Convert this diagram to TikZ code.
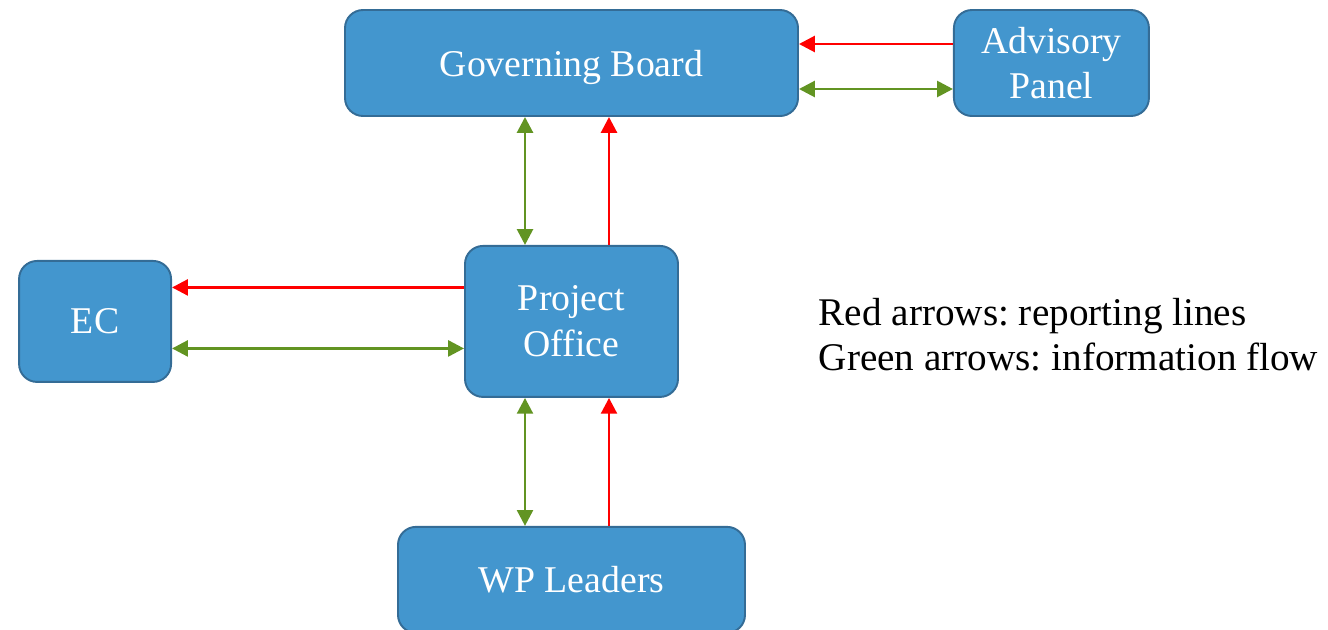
\documentclass[tikz,border=0pt]{standalone}
\usepackage{fontspec}
\setmainfont{Liberation Serif}
\usetikzlibrary{arrows.meta,positioning}
\definecolor{BoxBlue}{RGB}{67,150,206}
\definecolor{BoxEdge}{RGB}{52,108,150}
\definecolor{FlowGreen}{RGB}{98,148,34}
\frenchspacing

\begin{document}
\begin{tikzpicture}[
       >={Triangle[length=9pt,width=9pt]}, thick, text=black,
       every node/.style={font=\fontsize{21.5}{26}\selectfont},
       unit/.style 2 args = {rectangle, rounded corners=0.36cm,
                             minimum width=#1, minimum height=#2,
                             draw=BoxEdge, line width=1.1pt, fill=BoxBlue,
                             text=white, align=center, inner sep=0pt},
       report/.style={->, red, line width=1.6pt},
       info/.style={<->, FlowGreen, line width=1.6pt}]

	%% Page size of the picture
	\useasboundingbox (0,0) rectangle (26.56,-12.58);

	%% Boxes of the project structure
	\node [unit={9.06cm}{2.12cm}, text depth=0pt] (board) at (11.43,-1.26) {Governing Board};
	\node [unit={3.9cm}{2.12cm}, right=3.08cm of board] (panel) {Advisory\\Panel};
	\node [unit={4.26cm}{3.02cm}, below=2.56cm of board] (office) {Project\\Office};
	\node [unit={3.04cm}{2.42cm}, left=5.84cm of office] (ec) {EC};
	\node [unit={6.94cm}{2.12cm}, below=2.56cm of office] (wp) {WP Leaders};

	%% Reporting lines (red) and information flow (green)
	\draw [report] ([yshift=0.38cm]panel.west) -- ([yshift=0.38cm]panel.west -| board.east);
	\draw [info] ([yshift=-0.52cm]board.east) -- ([yshift=-0.52cm]board.east -| panel.west);
	\draw [report] ([yshift=0.68cm]office.west) -- ([yshift=0.68cm]office.west -| ec.east);
	\draw [info] ([yshift=-0.54cm]ec.east) -- ([yshift=-0.54cm]ec.east -| office.west);
	\foreach \lo/\hi in {office/board, wp/office}
		{\draw [info] ([xshift=-0.93cm]\hi.south) -- ([xshift=-0.93cm]\hi.south |- \lo.north);
		 \draw [report] ([xshift=0.75cm]\lo.north) -- ([xshift=0.75cm]\lo.north |- \hi.south);}

	%% Legend
	\node [align=left, anchor=north west, inner sep=0pt, font=\fontsize{22.3}{25.5}\selectfont]
		(key) at (16.36,-5.95) {Red arrows: reporting lines\\Green arrows: information flow};
\end{tikzpicture}
\end{document}
